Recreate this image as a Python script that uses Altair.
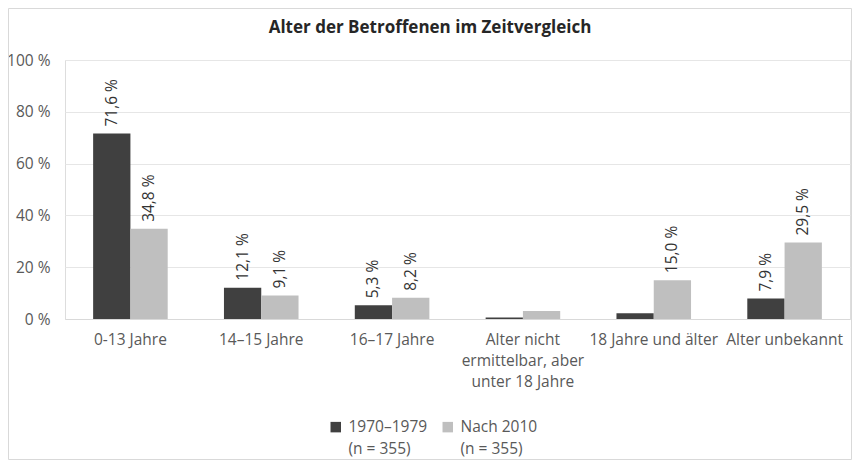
import altair as alt
import pandas as pd

title_text = "Alter der Betroffenen im Zeitvergleich"
categories = ["0-13 Jahre", "14–15 Jahre", "16–17 Jahre",
              "Alter nicht|ermittelbar, aber|unter 18 Jahre",
              "18 Jahre und älter", "Alter unbekannt"]
series = ["1970–1979|(n = 355)", "Nach 2010|(n = 355)"]
values_1970 = [71.6, 12.1, 5.3, 0.6, 2.2, 7.9]
values_2010 = [34.8, 9.1, 8.2, 3.1, 15.0, 29.5]
show_1970 = [True, True, True, False, False, True]
show_2010 = [True, True, True, False, True, True]
colors = ["#404040", "#bfbfbf"]

rows = []
for i, c in enumerate(categories):
    for s, vals, shows in ((series[0], values_1970, show_1970), (series[1], values_2010, show_2010)):
        v = vals[i]
        rows.append({
            "cat": c, "series": s, "value": v,
            "label": (f"{v:.1f}".replace(".", ",") + " %") if shows[i] else "",
        })
df = pd.DataFrame(rows)
single = pd.DataFrame({"t": [title_text]})

FONT = "Open Sans"
FS = 15.5

x = alt.X("cat:N", sort=categories, title=None,
          scale=alt.Scale(paddingInner=0.43, paddingOuter=0.215),
          axis=alt.Axis(labelAngle=0, labelExpr="split(datum.label, '|')",
                        labelFontSize=FS, labelColor="#595959", labelFont=FONT,
                        labelPadding=13, labelLineHeight=21, ticks=False,
                        domainColor="#d9d9d9", labelLimit=200))
y = alt.Y("value:Q", title=None,
          scale=alt.Scale(domain=[0, 100]),
          axis=alt.Axis(values=[0, 20, 40, 60, 80, 100], labelExpr="datum.value + ' %'",
                        labelFontSize=FS, labelColor="#595959", labelFont=FONT,
                        labelPadding=15, ticks=False, domain=False,
                        gridColor="#e6e6e6"))

bars = alt.Chart(df).mark_bar().encode(
    x=x, y=y,
    xOffset=alt.XOffset("series:N", sort=series),
    color=alt.Color("series:N", sort=series,
                    scale=alt.Scale(domain=series, range=colors),
                    legend=alt.Legend(title=None, orient="none", direction="horizontal",
                                      legendX=263, legendY=359,
                                      labelExpr="split(datum.label, '|')",
                                      labelFontSize=FS, labelColor="#595959", labelFont=FONT,
                                      symbolType="square", symbolSize=110, symbolStrokeWidth=0,
                                      columnPadding=12, labelOffset=5, labelLimit=200,
                                      symbolOffset=0)),
)

labels = alt.Chart(df).mark_text(angle=270, align="left", baseline="middle", dx=7,
                                 fontSize=FS, font=FONT, color="#333333").encode(
    x=alt.X("cat:N", sort=categories),
    xOffset=alt.XOffset("series:N", sort=series),
    y="value:Q",
    text="label:N",
)

frame = alt.Chart(single).mark_rect(fill=None, stroke="#d9d9d9", strokeWidth=1).encode(
    x=alt.value(-56.5), x2=alt.value(786.5), y=alt.value(-51.5), y2=alt.value(399.5)
)

title = alt.Chart(single).mark_text(fontSize=17, font=FONT, fontWeight="bold",
                                    color="#262626", align="center", baseline="alphabetic").encode(
    x=alt.value(365), y=alt.value(-27), text="t:N"
)

chart = alt.layer(frame, title, bars, labels).properties(
    width=785, height=259,
    autosize=alt.AutoSizeParams(type="none"),
    padding={"left": 57, "top": 52, "right": 2, "bottom": 142},
).configure_view(stroke=None).configure(
    background="white",
    style={"guide-label": {"lineHeight": 22}},
)

chart.save("out.html", embed_options={"renderer": "svg", "actions": False})
